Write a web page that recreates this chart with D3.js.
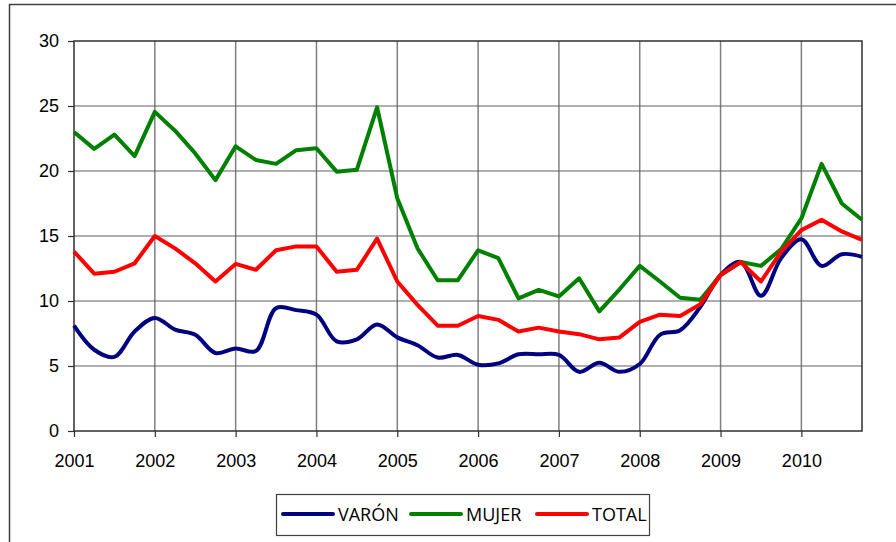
<!DOCTYPE html>
<html>
<head>
<meta charset="utf-8">
<script src="https://cdn.jsdelivr.net/npm/d3@7"></script>
<style>
  body { margin: 0; background: #fff; }
  svg { display: block; font-family: "Open Sans", "Noto Sans", sans-serif; }
</style>
</head>
<body>
<div id="chart"></div>
<script>
// quarterly series, 2001 Q1 .. 2010 Q4
const years = [2001, 2002, 2003, 2004, 2005, 2006, 2007, 2008, 2009, 2010];
const yTicks = [0, 5, 10, 15, 20, 25, 30];

const varon = [8.1, 6.25, 5.7, 7.65, 8.7, 7.8, 7.4, 6.0, 6.35, 6.15,
  9.45, 9.3, 8.95, 6.9, 7.05, 8.2, 7.2, 6.6, 5.65, 5.85,
  5.1, 5.2, 5.9, 5.9, 5.85, 4.55, 5.25, 4.55, 5.15, 7.4,
  7.75, 9.55, 12.0, 13.0, 10.4, 13.3, 14.75, 12.7, 13.6, 13.4];
const mujer = [23.0, 21.7, 22.8, 21.15, 24.55, 23.1, 21.35, 19.3, 21.9, 20.85,
  20.55, 21.6, 21.75, 19.95, 20.1, 24.9, 17.9, 14.05, 11.6, 11.6,
  13.9, 13.3, 10.2, 10.85, 10.35, 11.75, 9.2, 10.9, 12.7, 11.5,
  10.25, 10.1, 12.0, 13.0, 12.7, 14.0, 16.35, 20.55, 17.5, 16.25];
const total = [13.8, 12.1, 12.25, 12.9, 15.0, 14.05, 12.9, 11.5, 12.85, 12.4,
  13.9, 14.2, 14.2, 12.25, 12.4, 14.8, 11.5, 9.7, 8.1, 8.1,
  8.85, 8.55, 7.65, 7.95, 7.65, 7.45, 7.05, 7.2, 8.4, 8.95,
  8.85, 9.75, 12.0, 13.0, 11.5, 13.8, 15.45, 16.25, 15.35, 14.7];

const series = [
  {name: "VARÓN", values: varon, color: "#000080", smooth: true},
  {name: "MUJER", values: mujer, color: "#008000", smooth: false},
  {name: "TOTAL", values: total, color: "#ff0000", smooth: false}
];

const W = 896, H = 542;
const margin = {top: 41, right: 34, bottom: 111, left: 74};

const svg = d3.select("#chart").append("svg")
  .attr("width", W)
  .attr("height", H);

// outer chart frame (runs off the right and bottom of the picture)
svg.append("rect")
  .attr("x", 9.5).attr("y", 4.5)
  .attr("width", W).attr("height", H)
  .attr("fill", "none")
  .attr("stroke", "#404040")
  .attr("stroke-width", 1.5);

const x = d3.scaleLinear()
  .domain([2001, 2010.75])
  .range([margin.left, W - margin.right]);
const y = d3.scaleLinear()
  .domain([0, 30])
  .range([H - margin.bottom, margin.top]);

const t = i => 2001 + i / 4;

// grid
svg.append("g")
  .selectAll("line")
  .data(years.slice(1))
  .join("line")
    .attr("x1", d => x(d)).attr("x2", d => x(d))
    .attr("y1", y(30)).attr("y2", y(0))
    .attr("stroke", "#808080")
    .attr("stroke-width", 1.5);
svg.append("g")
  .selectAll("line")
  .data(yTicks.slice(1, -1))
  .join("line")
    .attr("x1", x.range()[0]).attr("x2", x.range()[1])
    .attr("y1", d => y(d)).attr("y2", d => y(d))
    .attr("stroke", "#606060")
    .attr("stroke-width", 1.2);

// plot frame
svg.append("rect")
  .attr("x", x.range()[0]).attr("y", y(30))
  .attr("width", x.range()[1] - x.range()[0])
  .attr("height", y(0) - y(30))
  .attr("fill", "none")
  .attr("stroke", "#303030")
  .attr("stroke-width", 1.5);

// axes
const xAxis = svg.append("g")
  .attr("transform", `translate(0,${y(0)})`)
  .call(d3.axisBottom(x).tickValues(years).tickFormat(d3.format("d"))
    .tickSize(6).tickPadding(17));
const yAxis = svg.append("g")
  .attr("transform", `translate(${x.range()[0]},0)`)
  .call(d3.axisLeft(y).tickValues(yTicks).tickSize(6).tickPadding(9));

[xAxis, yAxis].forEach(g => {
  g.select(".domain").remove();
  g.selectAll(".tick line").attr("stroke", "#303030").attr("stroke-width", 1.2);
  g.selectAll(".tick text").attr("fill", "#000").style("font-size", "18px");
});

// lines
series.forEach(s => {
  const line = d3.line()
    .x((d, i) => x(t(i)))
    .y(d => y(d))
    .curve(s.smooth ? d3.curveCatmullRom.alpha(0.5) : d3.curveLinear);
  svg.append("path")
    .datum(s.values)
    .attr("fill", "none")
    .attr("stroke", s.color)
    .attr("stroke-width", 4)
    .attr("stroke-linejoin", "round")
    .attr("d", line);
});

// legend
const legend = svg.append("g").attr("transform", "translate(276,494)");
legend.append("rect")
  .attr("x", 0.5).attr("y", 0.5)
  .attr("width", 373).attr("height", 41)
  .attr("fill", "#fff")
  .attr("stroke", "#404040")
  .attr("stroke-width", 1.2);
const offsets = [7, 135, 261];
series.forEach((s, i) => {
  const g = legend.append("g").attr("transform", `translate(${offsets[i]},20)`);
  g.append("line")
    .attr("x1", 0).attr("x2", 50)
    .attr("stroke", s.color)
    .attr("stroke-width", 4)
    .attr("stroke-linecap", "round");
  g.append("text")
    .attr("x", 55).attr("y", 7)
    .style("font-size", "18px")
    .text(s.name);
});
</script>
</body>
</html>
